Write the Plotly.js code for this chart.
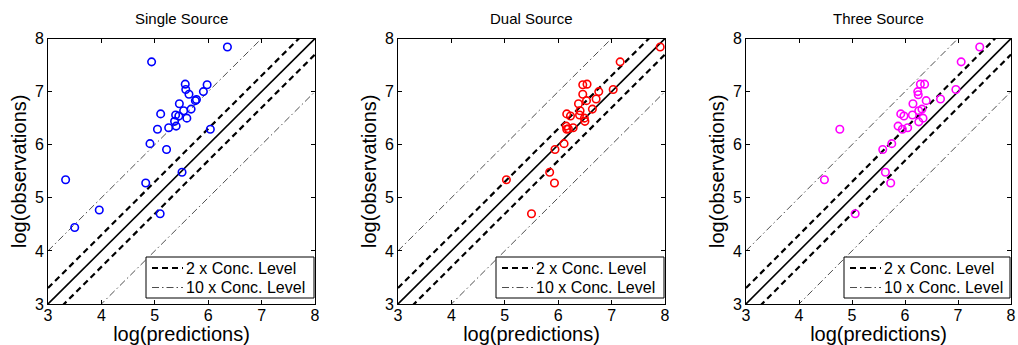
<!DOCTYPE html>
<html>
<head>
<meta charset="utf-8">
<script src="https://cdn.plot.ly/plotly-3.0.1.min.js"></script>
<style>html,body{margin:0;padding:0;background:#fff;}#chart{width:1018px;height:345px;}</style>
</head>
<body>
<div id="chart"></div>
<script>
// ---- data ----
const panelTitles = ["Single Source", "Dual Source", "Three Source"];
const panelColors = ["#0000ff", "#ff0000", "#ff00ff"];

const predSingle = [6.36,4.94,5.57,5.98,5.58,5.64,5.91,5.78,5.76,5.46,5.68,5.54,5.11,5.39,5.45,5.60,5.37,5.40,5.26,5.05,6.04,4.91,5.22,5.51,3.33,4.83,3.96,3.50,5.10];
const obsSingle  = [7.84,7.56,7.14,7.13,7.04,6.95,7.00,6.85,6.83,6.77,6.67,6.64,6.58,6.56,6.54,6.50,6.44,6.35,6.32,6.29,6.29,6.02,5.91,5.48,5.34,5.28,4.77,4.44,4.70];

const predDual = [7.91,7.16,6.46,6.54,6.46,6.76,7.03,6.53,6.71,6.38,6.41,6.64,6.16,6.23,6.40,6.49,6.50,6.15,6.28,6.16,6.19,6.11,5.94,5.84,5.03,5.93,5.50];
const obsDual  = [7.84,7.56,7.13,7.14,6.95,7.00,7.04,6.83,6.86,6.77,6.64,6.67,6.58,6.54,6.56,6.50,6.44,6.35,6.32,6.29,6.30,6.02,5.91,5.48,5.34,5.28,4.70];

const predThree = [7.41,7.06,6.29,6.37,6.24,6.25,6.96,6.40,6.67,6.15,6.26,6.32,5.92,5.98,6.14,6.34,6.26,5.87,6.05,5.95,4.77,5.75,5.58,5.63,4.48,5.73,5.06];
const obsThree  = [7.84,7.56,7.14,7.14,7.00,6.94,7.04,6.83,6.86,6.77,6.64,6.67,6.58,6.54,6.56,6.50,6.43,6.35,6.32,6.29,6.29,6.02,5.91,5.48,5.34,5.28,4.70];

const refX = [3, 8];            // reference-line extent
const concFactors = [2, 10];    // "2 x" and "10 x" concentration levels
const legendLabels = ["2 x Conc. Level", "10 x Conc. Level"];
const tickVals = [3, 4, 5, 6, 7, 8];
const axisRange = [3, 8];

const preds = [predSingle, predDual, predThree];
const obss = [obsSingle, obsDual, obsThree];

// ---- layout geometry ----
const W = 1018, H = 345;
const xDomPx = [[48, 315], [398, 665], [746, 1011]];
const yTopPx = 38.5, yBotPx = 304;
const yDom = [1 - yBotPx / H, 1 - yTopPx / H];
const FONT = "Arial, 'Liberation Sans', Helvetica, sans-serif";
const px = v => v / W, py = v => 1 - v / H;

const lineStyles = [
  {color: "#000", width: 2.2, dash: "6px,4px"},
  {color: "#000", width: 0.7, dash: "7px,3px,1.5px,3px"}
];

const traces = [];
const layout = {
  width: W, height: H,
  margin: {l: 0, r: 0, t: 0, b: 0},
  paper_bgcolor: "#fff", plot_bgcolor: "#fff",
  font: {family: FONT, color: "#000", size: 16},
  showlegend: false,
  annotations: [],
  shapes: []
};

for (let p = 0; p < 3; p++) {
  const sfx = p === 0 ? "" : String(p + 1);
  const xa = "x" + sfx, ya = "y" + sfx;

  // 1:1 line
  traces.push({x: refX, y: refX, xaxis: xa, yaxis: ya, mode: "lines",
    line: {color: "#000", width: 1.6}, showlegend: false, hoverinfo: "skip"});

  concFactors.forEach((f, i) => {
    const off = Math.log10(f);
    [1, -1].forEach(s => {
      traces.push({x: refX, y: refX.map(v => v + s * off), xaxis: xa, yaxis: ya,
        mode: "lines", line: lineStyles[i], name: legendLabels[i],
        showlegend: false, hoverinfo: "skip"});
    });
  });

  traces.push({x: preds[p], y: obss[p], xaxis: xa, yaxis: ya, mode: "markers",
    marker: {symbol: "circle-open", size: 7.5, color: panelColors[p], line: {width: 1.6, color: panelColors[p]}},
    showlegend: false});

  const ax = {
    range: axisRange, tickvals: tickVals, ticks: "inside", ticklen: 4, tickwidth: 1,
    tickcolor: "#000", showline: true, linecolor: "#000", linewidth: 1, mirror: "ticks",
    showgrid: false, zeroline: false, tickfont: {size: 16, family: FONT}, fixedrange: true,
    ticklabeloverflow: "allow"
  };
  layout["xaxis" + sfx] = Object.assign({}, ax, {
    domain: [px(xDomPx[p][0]), px(xDomPx[p][1])], anchor: ya,
    ticklabelstandoff: -3,
    title: {text: "log(predictions)", font: {size: 20, family: FONT}, standoff: 0}
  });
  layout["yaxis" + sfx] = Object.assign({}, ax, {
    domain: yDom, anchor: xa,
    title: {text: "log(observations)", font: {size: 20, family: FONT}, standoff: 2}
  });

  // legend box (drawn to match the compact MATLAB-style legend)
  const L = xDomPx[p][0] + 98, R = xDomPx[p][1] - 1, T = 257, B = 298;
  layout.shapes.push({type: "rect", xref: "paper", yref: "paper",
    x0: px(L), x1: px(R), y0: py(B), y1: py(T),
    line: {color: "#000", width: 1}, fillcolor: "#fff", layer: "above"});
  const rowsY = [268, 287.5];
  legendLabels.forEach((lab, i) => {
    layout.shapes.push({type: "line", xref: "paper", yref: "paper",
      x0: px(L + 6), x1: px(L + 37), y0: py(rowsY[i]), y1: py(rowsY[i]),
      line: lineStyles[i], layer: "above"});
    layout.annotations.push({text: lab, xref: "paper", yref: "paper",
      x: px(L + 38), y: py(rowsY[i]), xanchor: "left", yanchor: "middle",
      showarrow: false, font: {size: 16, family: FONT}});
  });

  layout.annotations.push({
    text: panelTitles[p], xref: "paper", yref: "paper",
    x: (xDomPx[p][0] + xDomPx[p][1]) / 2 / W, y: py(19),
    xanchor: "center", yanchor: "middle", showarrow: false,
    font: {size: 15, family: FONT}
  });
}

Plotly.newPlot("chart", traces, layout, {displayModeBar: false, staticPlot: true});
</script>
</body>
</html>
